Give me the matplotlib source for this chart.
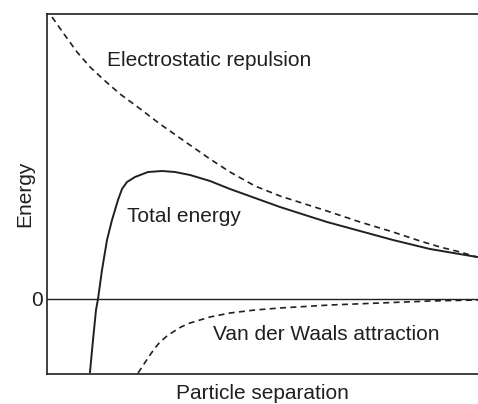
import matplotlib.pyplot as plt

plt.rcParams["font.family"] = ["Liberation Sans", "DejaVu Sans"]

INK = "#231f20"

# curves (x: separation, y: energy, arbitrary units)
rep_x = [0.05, 0.17, 0.30, 0.43, 0.57, 0.73, 0.92, 1.13, 1.40, 1.63, 1.83,
         2.08, 2.33, 2.58, 2.80, 3.13, 3.46, 3.73, 3.93, 4.13, 4.30]
rep_y = [2.82, 2.65, 2.47, 2.32, 2.19, 2.05, 1.91, 1.75, 1.56, 1.40, 1.27,
         1.13, 1.03, 0.95, 0.88, 0.77, 0.67, 0.58, 0.52, 0.47, 0.42]

tot_x = [0.43, 0.46, 0.49, 0.51, 0.55, 0.60, 0.65, 0.71, 0.75, 0.80, 0.88,
         1.01, 1.15, 1.28, 1.43, 1.63, 1.83, 2.08, 2.33, 2.58, 2.80, 3.13,
         3.46, 3.83, 4.30]
tot_y = [-0.73, -0.41, -0.11, 0.00, 0.29, 0.59, 0.79, 0.99, 1.10, 1.17, 1.22,
         1.27, 1.28, 1.27, 1.24, 1.18, 1.10, 1.01, 0.92, 0.84, 0.77, 0.68,
         0.59, 0.50, 0.42]

vdw_x = [0.91, 0.97, 1.03, 1.08, 1.13, 1.20, 1.26, 1.34, 1.43, 1.53, 1.63,
         1.83, 2.08, 2.33, 2.83, 3.33, 3.83, 4.31]
vdw_y = [-0.74, -0.65, -0.56, -0.49, -0.43, -0.37, -0.33, -0.28, -0.24, -0.21,
         -0.18, -0.14, -0.11, -0.09, -0.06, -0.04, -0.02, -0.01]

fig = plt.figure(figsize=(4.78, 4.04), dpi=100)
ax = fig.add_axes([47 / 478, 30 / 404, 1 - 47 / 478, 360 / 404])

dash = (0, (3.6, 2.6))
ax.axhline(0, color=INK, lw=1.0)
ax.plot(rep_x, rep_y, color=INK, lw=1.2, linestyle=dash)
ax.plot(vdw_x, vdw_y, color=INK, lw=1.2, linestyle=dash)
ax.plot(tot_x, tot_y, color=INK, lw=1.4)

ax.set_xlim(0, 4.31)
ax.set_ylim(-0.75, 2.85)

fs = 15
ax.text(0.60, 2.39, "Electrostatic repulsion", fontsize=fs, color=INK, va="center")
ax.text(0.80, 0.82, "Total energy", fontsize=fs, color=INK, va="center")
ax.text(1.66, -0.36, "Van der Waals attraction", fontsize=fs, color=INK, va="center")

ax.set_xticks([])
ax.set_yticks([0])
ax.set_yticklabels(["0"], fontsize=fs, color=INK)
ax.tick_params(axis="y", length=0, pad=3)
ax.set_xlabel("Particle separation", fontsize=fs, color=INK, labelpad=7)
ax.set_ylabel("Energy", fontsize=fs, color=INK)
ax.yaxis.set_label_coords(-0.030, 0.5)

for side in ["left", "bottom", "top"]:
    ax.spines[side].set_color(INK)
    ax.spines[side].set_linewidth(1.2)
ax.spines["right"].set_visible(False)

fig.savefig("out.png", dpi=100)
